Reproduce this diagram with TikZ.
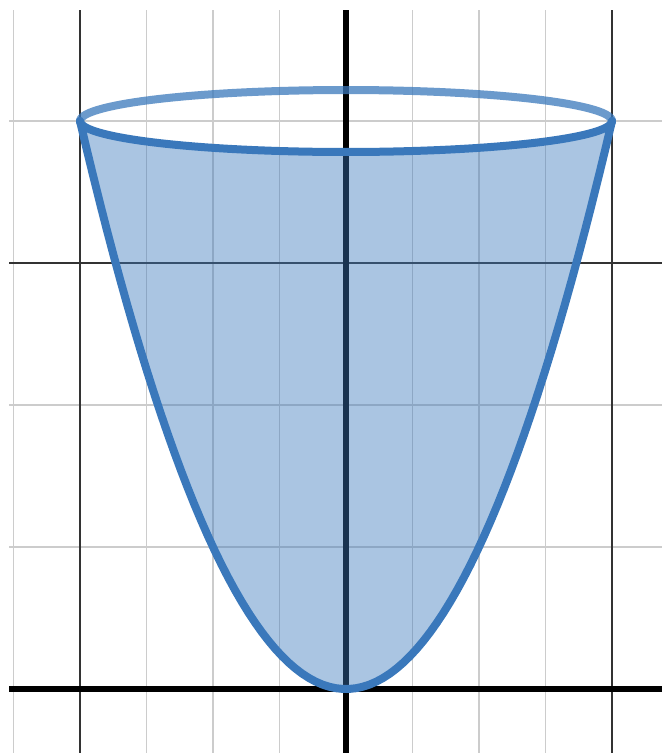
\documentclass[tikz,border=0pt]{standalone}
\usepackage{xcolor}
\definecolor{curveblue}{HTML}{3A78BB}
\definecolor{minorgrid}{HTML}{CCCCCC}
\definecolor{majorgrid}{HTML}{333333}
\begin{document}
\begin{tikzpicture}[x=1pt,y=-1pt,
  minorline/.style={draw=minorgrid,line width=1.8pt},
  majorline/.style={draw=majorgrid,line width=2.2pt},
  axisline/.style={draw=black,line width=6pt},
  curve/.style={draw=curveblue,line width=8pt,line cap=round,line join=round}]
\useasboundingbox (0,0) rectangle (662,753);
\begin{scope}
\clip (9,10) rectangle (662,753);
% minor grid
\foreach \gx in {13.5,146.5,213,279.5,412.5,479,545.5}
  \draw[minorline] (\gx,0) -- (\gx,753);
\foreach \gy in {121,405,547}
  \draw[minorline] (0,\gy) -- (662,\gy);
% major grid
\foreach \gx in {80,612}
  \draw[majorline] (\gx,0) -- (\gx,753);
\draw[majorline] (0,263) -- (662,263);
% axes
\draw[axisline] (346,0) -- (346,753);
\draw[axisline] (0,689) -- (662,689);
% fill
\fill[curveblue,opacity=0.43]
  plot[domain=-266:266,samples=80] ({346+\x},{689-568*(\x/266)^2})
  -- plot[domain=0:180,samples=60] ({346+266*cos(\x)},{121+31*sin(\x)}) -- cycle;
% back arc
\draw[curve,opacity=0.75]
  plot[domain=0:180,samples=60] ({346+266*cos(\x)},{121-31*sin(\x)});
% parabola and front arc
\draw[curve]
  plot[domain=-266:266,samples=80] ({346+\x},{689-568*(\x/266)^2});
\draw[curve]
  plot[domain=0:180,samples=60] ({346+266*cos(\x)},{121+31*sin(\x)});
\end{scope}
\end{tikzpicture}
\end{document}
